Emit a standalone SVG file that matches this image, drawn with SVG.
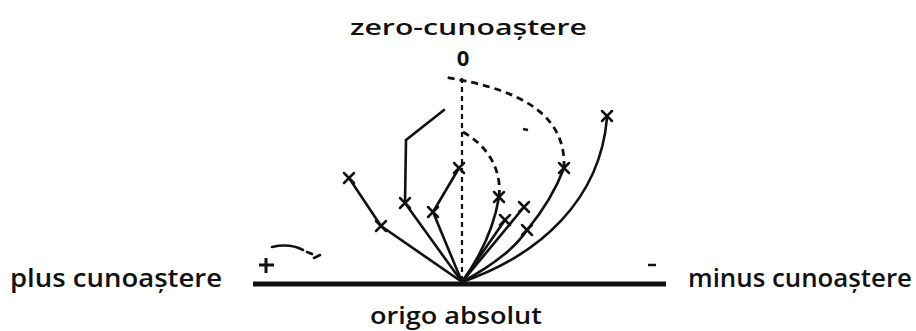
<svg xmlns="http://www.w3.org/2000/svg" width="916" height="331" viewBox="0 0 916 331">
<style>
  .lbl { font-family: "Open Sans", "Noto Sans", "Liberation Sans", sans-serif; fill: #111; font-weight: 600; }
  .ln { fill: none; stroke: #111; stroke-width: 2.6; stroke-linecap: round; stroke-linejoin: round; }
  .dash { fill: none; stroke: #111; stroke-width: 2.8; stroke-dasharray: 7 5; stroke-linecap: butt; }
  .vdash { fill: none; stroke: #111; stroke-width: 2.2; stroke-dasharray: 5 4; }
  .x { fill: none; stroke: #111; stroke-width: 2.5; stroke-linecap: round; }
</style>
<defs>
  <g id="cross">
    <line class="x" x1="-5" y1="-5" x2="5" y2="5"/>
    <line class="x" x1="5" y1="-5" x2="-5" y2="5"/>
  </g>
</defs>
<rect width="916" height="331" fill="#fff"/>

<g id="axis">
  <line x1="253" y1="284" x2="666" y2="284" stroke="#111" stroke-width="5"/>
  <path d="M259,265 L274,265 M266,258 L266,273" stroke="#111" stroke-width="3" fill="none"/>
  <path class="ln" d="M272,247 Q290,243 303,250 M307,252 L312,254 M314,258 L320,255" stroke-width="1.8"/>
  <line x1="648" y1="265" x2="656" y2="265" stroke="#111" stroke-width="2.5"/>
</g>

<g id="labels">
  <text id="plus" class="lbl" x="10" y="287" font-size="26" textLength="212" lengthAdjust="spacingAndGlyphs">plus cunoaștere</text>
  <text id="minus" class="lbl" x="688" y="287" font-size="26" textLength="224" lengthAdjust="spacingAndGlyphs">minus cunoaștere</text>
  <text id="origo" class="lbl" x="370" y="324" font-size="24" textLength="172" lengthAdjust="spacingAndGlyphs">origo absolut</text>
  <text id="zero" class="lbl" x="350" y="35" font-size="21" textLength="237" lengthAdjust="spacingAndGlyphs">zero-cunoaștere</text>
  <text id="zero-mark" class="lbl" x="463" y="66" font-size="22" text-anchor="middle" style="font-weight:bold">0</text>
</g>

<g id="connectors">
  <line class="vdash" x1="462" y1="78" x2="462" y2="282"/>
  <path class="ln" d="M462,282 L381,226 L349,178"/>
  <path class="ln" d="M462,282 L405,203 L406,140"/>
  <path class="ln" d="M406,140 L444,110" stroke-width="1.8"/>
  <path class="ln" d="M462,282 L433,212 L459,168"/>
  <path class="ln" d="M462,282 Q492,240 499,197"/>
  <path class="dash" d="M499,197 C502,170 488,146 463,132"/>
  <path class="ln" d="M462,282 L505,220"/>
  <path class="ln" d="M462,282 L524,207"/>
  <path class="ln" d="M462,282 Q510,256 527,230 Q552,200 564,168"/>
  <path class="dash" d="M564,168 C566,120 530,90 443,77"/>
  <line x1="523" y1="129" x2="528" y2="130" stroke="#111" stroke-width="2.6"/>
  <path class="ln" d="M462,282 C540,255 600,200 607,118" stroke-width="3.2"/>
</g>

<g id="marks">
  <use href="#cross" x="349" y="178"/>
  <use href="#cross" x="381" y="226"/>
  <use href="#cross" x="405" y="203"/>
  <use href="#cross" x="433" y="212"/>
  <use href="#cross" x="459" y="168"/>
  <use href="#cross" x="499" y="197"/>
  <use href="#cross" x="505" y="220"/>
  <use href="#cross" x="524" y="207"/>
  <use href="#cross" x="527" y="230"/>
  <use href="#cross" x="564" y="168"/>
  <use href="#cross" x="607" y="116"/>
</g>
</svg>
